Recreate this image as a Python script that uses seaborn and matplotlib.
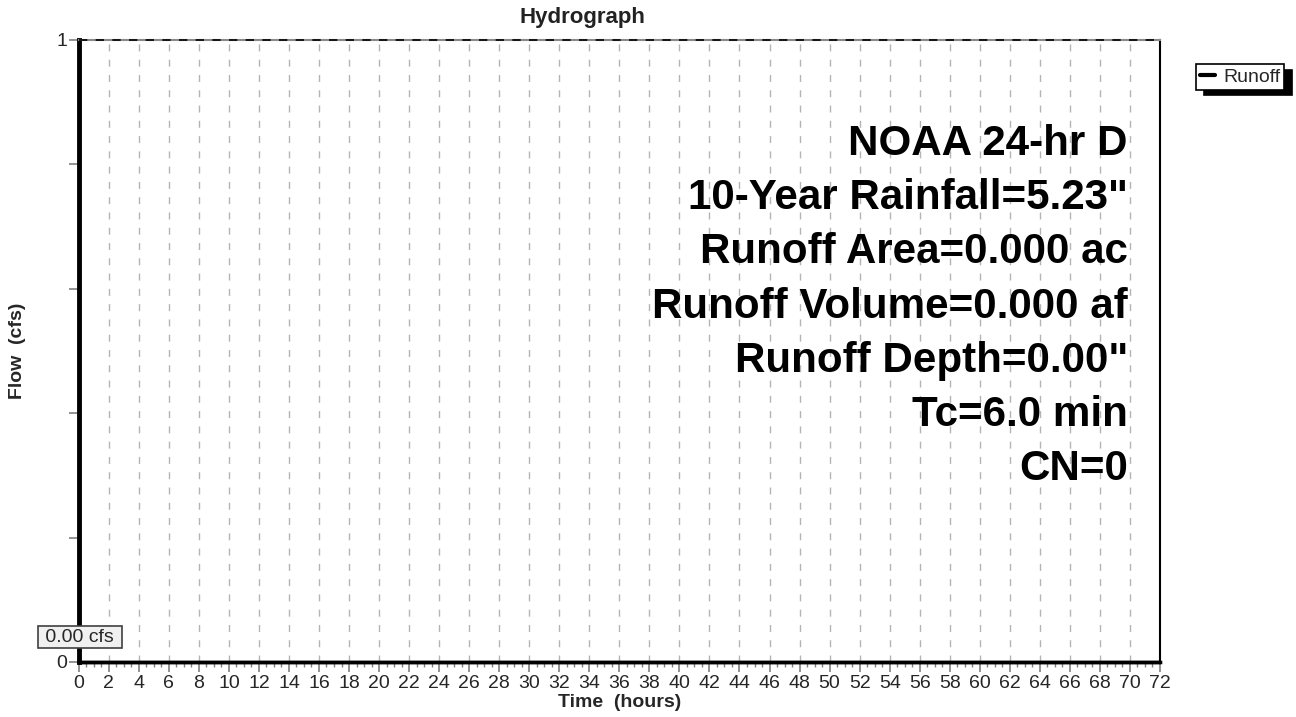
import numpy as np
import pandas as pd
import seaborn as sns
import matplotlib.pyplot as plt
from matplotlib.ticker import MultipleLocator, FixedLocator, FixedFormatter

# Hydrograph data (runoff is zero over the whole storm)
time_hours = [0, 12, 24, 36, 48, 60, 72]
flow_cfs = [0.0, 0.0, 0.0, 0.0, 0.0, 0.0, 0.0]
peak_label = "0.00 cfs"
x_ticks = list(range(0, 73, 2))
y_ticks = [0, 0.2, 0.4, 0.6, 0.8, 1.0]
y_tick_labels = ['0', '', '', '', '', '1']
summary_lines = [
    'NOAA 24-hr D',
    '10-Year Rainfall=5.23"',
    'Runoff Area=0.000 ac',
    'Runoff Volume=0.000 af',
    'Runoff Depth=0.00"',
    'Tc=6.0 min',
    'CN=0',
]

df = pd.DataFrame({'Time': time_hours, 'Flow': flow_cfs})

sns.set_theme(style='white')
plt.rcParams['font.family'] = ['Liberation Sans', 'DejaVu Sans']

W, H = 1296, 717
fig = plt.figure(figsize=(W / 100, H / 100), dpi=100)
L, R, T, B = 78.7, 1160, 40, 662
ax = fig.add_axes([L / W, 1 - B / H, (R - L) / W, (B - T) / H])

sns.lineplot(data=df, x='Time', y='Flow', color='black', linewidth=2.5,
             label='Runoff', ax=ax, zorder=5, clip_on=False)

ax.set_xlim(0, 72)
ax.set_ylim(0, 1)

# vertical dashed grid every 2 hours
for x in x_ticks[1:-1]:
    ax.axvline(x, color='#b4b4b4', linewidth=1.0, linestyle=(0, (5, 6)), zorder=1)
ax.axhline(1, color='black', linewidth=1.2, linestyle=(0, (5, 5)), zorder=3, clip_on=False)

# spines
ax.spines['left'].set_linewidth(3.5)
ax.spines['left'].set_color('black')
ax.spines['bottom'].set_linewidth(2.5)
ax.spines['bottom'].set_color('black')
ax.spines['right'].set_linewidth(1.5)
ax.spines['right'].set_color('black')
ax.spines['top'].set_linewidth(1.5)
ax.spines['top'].set_color('#8a8a8a')

# ticks
ax.xaxis.set_major_locator(FixedLocator(x_ticks))
ax.set_xticklabels([str(t) for t in x_ticks])
ax.xaxis.set_minor_locator(MultipleLocator(0.5))
ax.yaxis.set_major_locator(FixedLocator(y_ticks))
ax.yaxis.set_major_formatter(FixedFormatter(y_tick_labels))
ax.tick_params(axis='x', which='major', direction='out', length=7, width=1.2,
               color='#808080', labelsize=14, pad=2, bottom=True)
ax.tick_params(axis='x', which='minor', direction='out', length=3.5, width=1,
               color='#808080', bottom=True)
ax.tick_params(axis='y', which='major', direction='out', length=7, width=1.2,
               color='#808080', labelsize=14, pad=1, left=True)

ax.set_xlabel('Time  (hours)', fontsize=14, fontweight='bold', labelpad=2)
ax.set_ylabel('Flow  (cfs)', fontsize=14, fontweight='bold')
ax.yaxis.set_label_coords(-0.049, 0.5)

fig.text(582 / W, 1 - 18 / H, 'Hydrograph', ha='center', va='center',
         fontsize=16, fontweight='bold', color='#222222')

# summary text block, right aligned inside the plot
y0 = (B - 155) / (B - T)
dy = 54.2 / (B - T)
for i, line in enumerate(summary_lines):
    ax.text(0.9704, y0 - i * dy, line, transform=ax.transAxes, ha='right',
            va='baseline', fontsize=30.3, fontweight='bold', color='black', zorder=6)

# peak flow label in the left margin
fig.text(80 / W, 1 - 637 / H, ' ' + peak_label + ' ', ha='center', va='center',
         fontsize=14,
         bbox=dict(boxstyle='square,pad=0.12', fc='#f0f0f0', ec='#404040', lw=1.2))

leg = ax.legend(loc='center', bbox_to_anchor=(1240 / W, 1 - 77 / H),
                bbox_transform=fig.transFigure, frameon=True, fancybox=False,
                shadow={'ox': 5.5, 'oy': -4, 'color': 'black', 'alpha': 1},
                fontsize=14, handlelength=0.8, handletextpad=0.4,
                borderpad=0.2, borderaxespad=0)
leg.get_frame().set_edgecolor('black')
leg.get_frame().set_linewidth(1.2)
for h in leg.get_lines():
    h.set_linewidth(3)

fig.savefig('out.png', dpi=100)
